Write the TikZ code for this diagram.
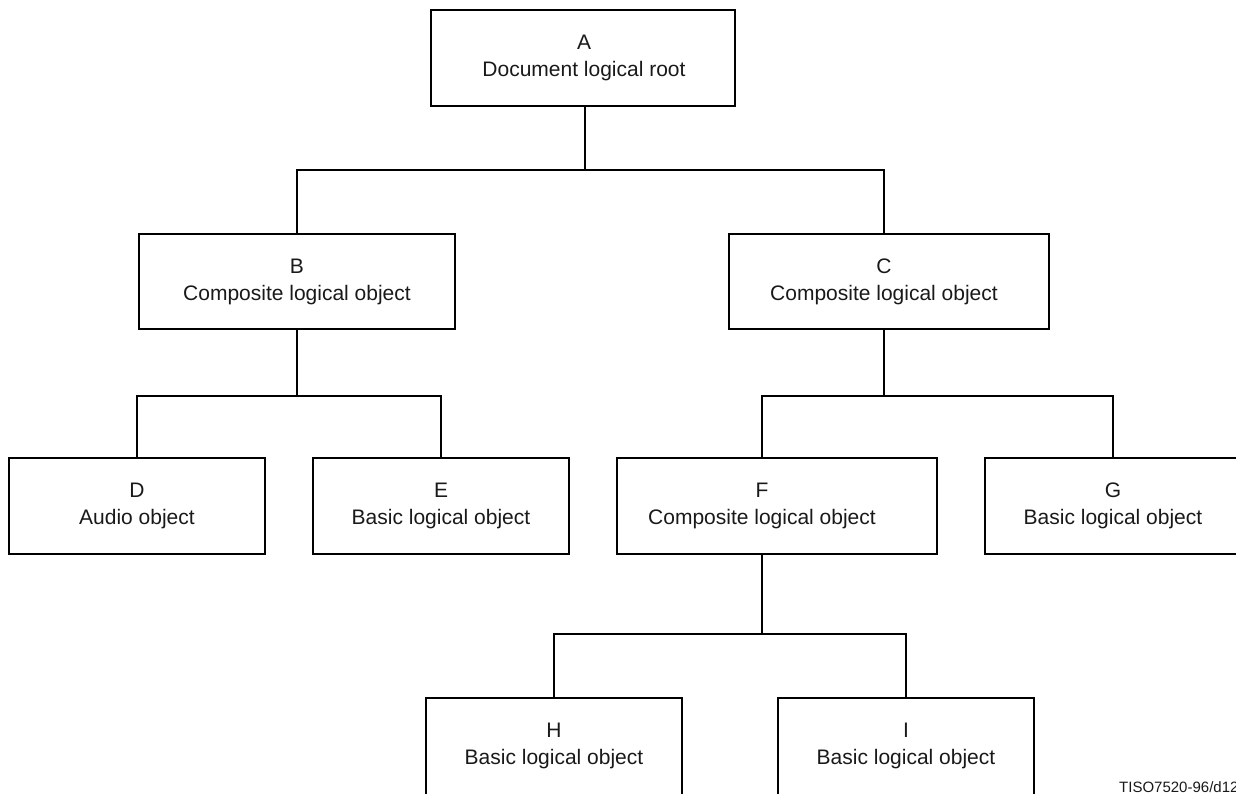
\documentclass[tikz,border=0pt]{standalone}
\usepackage{fontspec}
\setmainfont{Liberation Sans}
\begin{document}
\begin{tikzpicture}[x=1pt,y=-1pt,
  box/.style={draw=black, line width=1.8pt, rectangle, inner sep=0pt, minimum height=96pt},
  lbl/.style={align=center, inner sep=0pt, font=\fontsize{21}{27}\selectfont, text=black!90},
  conn/.style={draw=black, line width=1.8pt}]
\useasboundingbox (0,0) rectangle (1236,794);
% boxes
\node[box, minimum width=304pt] (A) at (583,58) {};
\node[box, minimum width=316pt, minimum height=95pt] (B) at (297,281.5) {};
\node[box, minimum width=320pt, minimum height=95pt] (C) at (889,281.5) {};
\node[box, minimum width=256pt] (D) at (137,506) {};
\node[box, minimum width=256pt] (E) at (441,506) {};
\node[box, minimum width=320pt] (F) at (777,506) {};
\node[box, minimum width=256pt] (G) at (1113,506) {};
\node[box, minimum width=256pt, minimum height=104pt] (H) at (554,750) {};
\node[box, minimum width=256pt, minimum height=104pt] (I) at (906,750) {};
% labels
\node[lbl] (At) at (584,58) {A\\Document logical root};
\node[lbl] (Bt) at (297,281.5) {B\\Composite logical object};
\node[lbl] (Ct) at (884,281.5) {C\\Composite logical object};
\node[lbl] (Dt) at (137,506) {D\\Audio object};
\node[lbl] (Et) at (441,506) {E\\Basic logical object};
\node[lbl] (Ft) at (762,506) {F\\Composite logical object};
\node[lbl] (Gt) at (1113,506) {G\\Basic logical object};
\node[lbl] (Ht) at (554,746) {H\\Basic logical object};
\node[lbl] (It) at (906,746) {I\\Basic logical object};
% junctions
\coordinate (jA) at (585,170);
\coordinate (jB) at (297,396);
\coordinate (jC) at (884,396);
\coordinate (jF) at (762,634);
% connectors
\draw[conn] (A.south -| jA) -- (jA);
\draw[conn] (B.north) |- (jA) -| (Ct |- C.north);
\draw[conn] (B.south) -- (jB);
\draw[conn] (D.north) |- (jB) -| (E.north);
\draw[conn] (Ct |- C.south) -- (jC);
\draw[conn] (Ft |- F.north) |- (jC) -| (G.north);
\draw[conn] (Ft |- F.south) -- (jF);
\draw[conn] (H.north) |- (jF) -| (I.north);
% footer
\node[anchor=base west, inner sep=0pt, font=\fontsize{15}{18}\selectfont, text=black!90] (tag) at (1119,792) {TISO7520-96/d12};
\end{tikzpicture}
\end{document}
